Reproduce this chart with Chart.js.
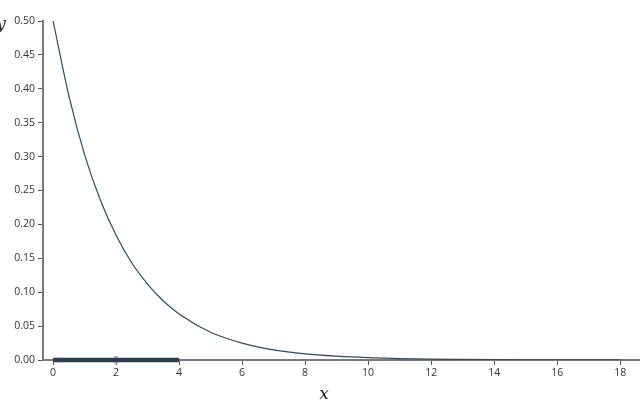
<!DOCTYPE html>
<html>
<head>
<meta charset="utf-8">
<script src="https://cdn.jsdelivr.net/npm/chart.js@4"></script>
<style>
  html, body { margin: 0; padding: 0; background: #fff; }
  #graph { display: block; }
</style>
</head>
<body>
<canvas id="graph" width="640" height="400"></canvas>
<script>
// density curve
const curveX = [0, 0.5, 1, 1.5, 2, 2.5, 3, 3.5, 4, 5, 6, 7, 8, 9, 10, 11, 12, 13, 14, 15, 16, 17, 18];
const curveY = [0.50, 0.39, 0.303, 0.236, 0.184, 0.143, 0.112, 0.087, 0.068, 0.041, 0.025, 0.015, 0.009,
                0.0056, 0.0034, 0.002, 0.0012, 0.0008, 0.0005, 0.0003, 0.0002, 0.0001, 0.00006];
// thick band on the axis and its middle point
const bandX = [0, 4];
const markX = [2];
const xTicks = [0, 2, 4, 6, 8, 10, 12, 14, 16, 18];
const yTicks = [0, 0.05, 0.1, 0.15, 0.2, 0.25, 0.3, 0.35, 0.4, 0.45, 0.5];

let ctx = document.getElementById('graph');

const axisLabels = {
    id: 'axisLabels',
    afterDraw: (chart) => {
        const {ctx, scales} = chart;
        ctx.save();
        ctx.fillStyle = '#222';
        ctx.font = 'italic 17px "DejaVu Serif", serif';
        ctx.textAlign = 'center';
        ctx.textBaseline = 'middle';
        ctx.fillText('x', scales.x.getPixelForValue(8.6), 395);
        ctx.fillText('y', 1, 25);
        ctx.restore();
    }
};

let chart = new Chart(ctx, {
    type: 'line',
    data: {
        datasets: [{
            data: curveX.map((x, i) => ({x: x, y: curveY[i]})),
            borderColor: '#34495e',
            borderWidth: 1.2,
            pointRadius: 0,
            cubicInterpolationMode: 'monotone',
            fill: false
        }, {
            data: bandX.map(x => ({x: x, y: 0})),
            borderColor: '#2c3e50',
            borderWidth: 4.5,
            borderCapStyle: 'butt',
            pointRadius: 0,
            clip: false
        }, {
            data: markX.map(x => ({x: x, y: 0})),
            showLine: false,
            pointStyle: 'line',
            pointRotation: 90,
            pointRadius: 4,
            pointBorderWidth: 4,
            pointBorderColor: '#b0bac5',
            clip: false
        }]
    },
    options: {
        responsive: false,
        animation: false,
        layout: { autoPadding: false, padding: { top: 21, right: 0, left: 0, bottom: 0 } },
        plugins: {
            legend: { display: false },
            tooltip: { enabled: false }
        },
        scales: {
            x: {
                type: 'linear',
                min: -0.32,
                max: 18.63,
                afterBuildTicks: (axis) => { axis.ticks = xTicks.map(v => ({value: v})); },
                afterFit: (axis) => {
                    axis.height = 40;
                    axis.paddingLeft = 0;
                    axis.paddingRight = 0;
                },
                border: { display: true, color: '#7a7a7a', width: 2 },
                grid: { drawOnChartArea: false, drawTicks: true, tickLength: 5, tickColor: '#555', tickWidth: 1 },
                ticks: {
                    padding: 2,
                    color: '#333',
                    font: { family: 'Open Sans', size: 10.5 },
                    callback: (v) => v
                }
            },
            y: {
                type: 'linear',
                min: 0,
                max: 0.5,
                afterBuildTicks: (axis) => { axis.ticks = yTicks.map(v => ({value: v})); },
                afterFit: (axis) => {
                    axis.width = 43;
                    axis.paddingTop = 0;
                    axis.paddingBottom = 0;
                },
                border: { display: true, color: '#7a7a7a', width: 2 },
                grid: { drawOnChartArea: false, drawTicks: true, tickLength: 5, tickColor: '#555', tickWidth: 1 },
                ticks: {
                    padding: 3,
                    color: '#333',
                    font: { family: 'Open Sans', size: 10.5 },
                    callback: (v) => v.toFixed(2)
                }
            }
        }
    },
    plugins: [axisLabels]
});
</script>
</body>
</html>
